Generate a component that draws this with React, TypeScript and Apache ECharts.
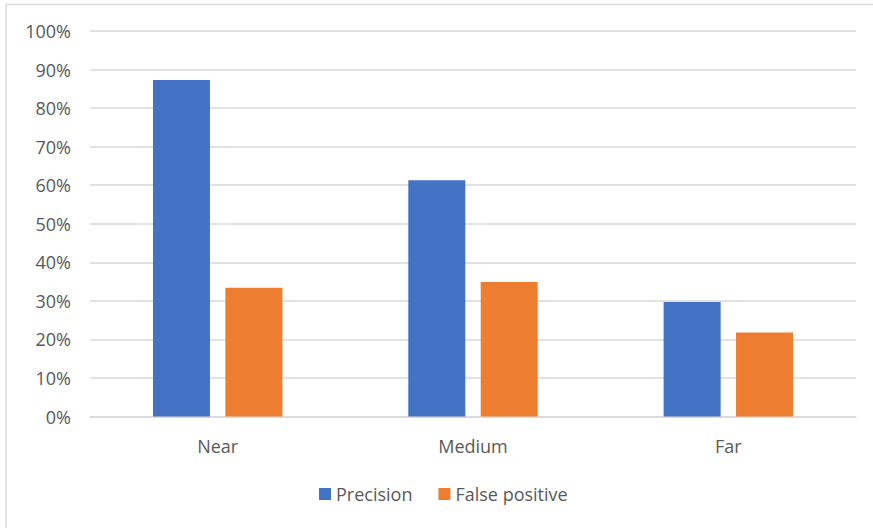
import React, { useEffect, useRef } from "react";
import * as echarts from "echarts";

const categories = ["Near", "Medium", "Far"];
const precision = [87.3, 61.3, 29.7];
const falsePositive = [33.4, 34.9, 21.8];
const seriesNames = ["Precision", "False positive"];

export default function App() {
  const ref = useRef<HTMLDivElement>(null);
  useEffect(() => {
    if (!ref.current) return;
    const chart = echarts.init(ref.current, null, { renderer: "svg" });
    const font = "'Open Sans', 'Noto Sans', sans-serif";
    chart.setOption({
      animation: false,
      backgroundColor: "#ffffff",
      graphic: [
        {
          type: "rect",
          shape: { x: 6, y: 4.5, width: 900, height: 600 },
          style: { fill: "none", stroke: "#d9d9d9", lineWidth: 1.5 },
          silent: true,
        },
      ],
      grid: { left: 90, right: 17, top: 31, bottom: 111.5, containLabel: false },
      legend: {
        left: 319,
        top: 485,
        padding: 0,
        itemWidth: 12,
        itemHeight: 12,
        itemGap: 26,
        icon: "rect",
        textStyle: { color: "#595959", fontSize: 18, fontFamily: font },
        data: seriesNames,
      },
      xAxis: {
        type: "category",
        data: categories,
        axisTick: { show: false },
        axisLine: { lineStyle: { color: "#d9d9d9", width: 1.5 } },
        axisLabel: { color: "#595959", fontSize: 18, fontFamily: font, margin: 20 },
      },
      yAxis: {
        type: "value",
        min: 0,
        max: 100,
        interval: 10,
        axisLabel: { color: "#595959", fontSize: 18, fontFamily: font, margin: 19, formatter: "{value}%" },
        axisLine: { show: false },
        axisTick: { show: false },
        splitLine: { lineStyle: { color: "#d9d9d9", width: 1.5 } },
      },
      series: [
        {
          name: seriesNames[0],
          type: "bar",
          data: precision,
          barWidth: 57,
          barGap: "27%",
          itemStyle: { color: "#4472C4" },
        },
        {
          name: seriesNames[1],
          type: "bar",
          data: falsePositive,
          barWidth: 57,
          itemStyle: { color: "#ED7D31" },
        },
      ],
    });
    return () => chart.dispose();
  }, []);
  return (
    <div style={{ position: "absolute", left: 0, top: 0, width: 873, height: 528 }}>
      <div ref={ref} style={{ width: 873, height: 528 }} />
    </div>
  );
}
